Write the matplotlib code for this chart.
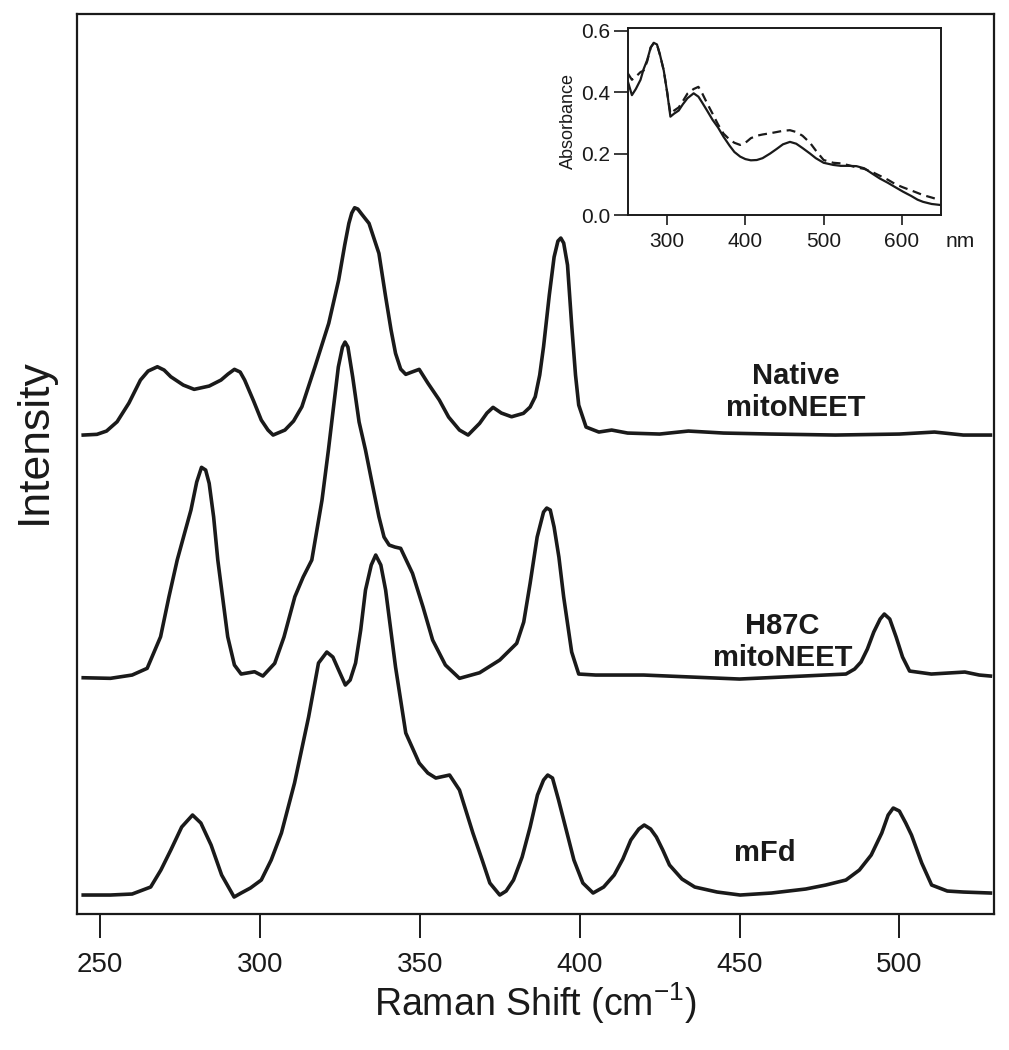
import matplotlib
matplotlib.use("Agg")
import matplotlib.pyplot as plt

plt.rcParams['font.family'] = ['Liberation Sans', 'DejaVu Sans']

# Raman spectra, intensity above each trace's own baseline
native_x = [244.7, 249.0, 252.0, 255.3, 259.0, 262.6, 265.0, 267.9, 270.0, 272.1, 276.0, 279.4,
            284.1, 287.8, 290.0, 292.0, 293.8, 295.2, 298.0, 300.4, 302.5, 304.1, 307.8, 310.5,
            313.1, 317.2, 321.5, 324.6, 326.5, 327.8, 328.7, 329.6, 330.6, 331.8, 334.1, 337.2,
            339.3, 341.0, 342.4, 344.0, 345.6, 347.5, 349.8, 352.5, 356.1, 359.0, 362.4, 365.1,
            368.7, 371.0, 372.9, 375.5, 378.7, 382.4, 384.5, 386.1, 387.5, 388.7, 390.5, 392.0,
            393.2, 394.1, 395.0, 396.2, 397.5, 398.7, 399.7, 402.0, 406.0, 410.0, 415.0, 425.0,
            434.0, 445.0, 460.0, 480.0, 500.0, 511.0, 520.0, 528.5]
native_y = [0, 0.7, 4, 13.3, 32, 55, 64, 68.3, 65, 58.3, 50, 45.7,
            49, 55, 61, 65.7, 63, 55, 34, 15, 5, 0, 5, 14,
            28.3, 68.3, 111.7, 155, 190, 211.7, 222, 227.3, 226, 221, 211.7, 181.7,
            138.3, 105, 81.7, 66, 60.7, 63, 65.7, 52, 35, 18, 5, 0,
            11.7, 22, 27.7, 22, 18.3, 21.7, 28, 38.3, 60, 88.3, 140, 178,
            194, 197, 192, 170, 110, 60, 30, 8, 3, 5, 2, 1,
            4, 2, 1, 0, 1, 3, 0, 0]

h87c_x = [244.7, 253.2, 260.0, 264.7, 268.9, 271.5, 274.1, 276.5, 278.4, 280.2, 281.7, 283.0,
          284.1, 285.5, 286.8, 289.9, 292.0, 294.1, 298.3, 300.9, 304.6, 307.5, 310.9, 313.5,
          316.2, 319.4, 321.4, 323.0, 324.5, 325.8, 326.6, 327.5, 329.0, 331.0, 333.0, 335.0,
          337.2, 338.8, 340.4, 342.2, 344.0, 347.7, 351.0, 354.0, 358.0, 362.4, 368.7, 375.0,
          380.3, 382.5, 384.5, 386.7, 388.7, 389.7, 390.8, 392.0, 393.5, 395.0, 397.5, 399.7,
          405.0, 420.0, 435.0, 450.0, 470.0, 483.3, 486.0, 488.0, 490.0, 492.0, 494.0, 495.3,
          497.0, 499.0, 501.0, 503.2, 510.0, 520.5, 525.0, 528.5]
h87c_y = [-0.7, -1.3, 2, 8.7, 40.3, 80, 117, 145, 167, 195, 209.7, 207,
          193.7, 160, 117, 40.3, 12, 3, 5.3, 1, 13.7, 40, 80.3, 100,
          117, 177, 227, 270, 310, 330, 335, 330, 300, 255, 227, 195,
          160.3, 140, 132, 130, 128.7, 103.7, 70, 37, 12, -1.3, 4.3, 17,
          33.7, 55, 93.7, 140, 165, 169, 167, 150, 120, 80, 25, 3,
          2, 2, 0, -2, 1, 3, 8, 15, 28, 45, 58, 63,
          58, 40, 20, 6, 3, 5, 2, 1]

mfd_x = [244.7, 253.2, 260.0, 265.8, 269.0, 272.1, 275.5, 278.9, 281.5, 284.7, 288.0, 291.9,
         294.1, 297.0, 300.4, 303.5, 306.7, 310.8, 315.2, 318.3, 320.9, 322.8, 324.6, 326.7,
         328.2, 329.9, 331.5, 333.0, 334.8, 336.2, 337.8, 339.3, 342.4, 345.6, 349.8, 352.5,
         355.0, 359.3, 362.4, 366.6, 369.5, 371.9, 375.0, 377.0, 379.3, 382.0, 384.5, 386.8,
         388.7, 390.0, 391.5, 393.4, 395.8, 398.2, 401.0, 404.2, 407.5, 410.8, 413.5, 416.0,
         418.5, 420.2, 422.2, 424.0, 426.0, 428.1, 432.0, 436.0, 443.0, 450.2, 460.0, 470.7,
         477.0, 483.3, 487.5, 491.2, 494.5, 496.5, 498.1, 500.0, 502.0, 503.8, 507.0, 510.1,
         515.0, 520.0, 528.5]
mfd_y = [0, 0, 1, 8, 25, 45, 68, 80, 72, 50, 20, -2,
         2, 7, 15, 35, 62, 112, 178, 232, 243, 238, 225, 210,
         215, 232, 265, 305, 330, 340, 330, 305, 228, 162, 132, 122,
         117, 120, 105, 62, 35, 12, 0, 4, 15, 38, 68, 100,
         115, 120, 117, 95, 65, 35, 12, 2, 8, 20, 36, 55,
         66, 70, 66, 58, 45, 30, 16, 8, 3, 0, 2, 6,
         10, 15, 25, 40, 62, 80, 87, 84, 72, 60, 32, 10,
         4, 3, 2]

trace_offsets = [479, 237, 19]
trace_labels = ["Native\nmitoNEET", "H87C\nmitoNEET", "mFd"]

# UV-vis absorbance (inset)
abs_nm = [250, 255, 260, 266, 270, 274.5, 279, 283, 287, 291, 295.7, 300, 304.2, 309, 314.8,
          320, 326, 333.9, 340, 345, 351, 358, 365, 372, 380, 386, 393.4, 400, 407, 414.6,
          422, 431.6, 440, 448, 457, 465, 473, 482.6, 490, 500, 512.3, 522, 532, 542, 552,
          562, 571.7, 582, 592, 601.5, 612, 620, 627, 638, 648.3]
abs_solid = [0.433, 0.39, 0.41, 0.44, 0.475, 0.504, 0.545, 0.56, 0.555, 0.52, 0.47, 0.40,
             0.32, 0.33, 0.34, 0.36, 0.38, 0.396, 0.385, 0.365, 0.34, 0.31, 0.285, 0.255,
             0.225, 0.205, 0.19, 0.182, 0.178, 0.179, 0.185, 0.2, 0.215, 0.23, 0.238, 0.232,
             0.218, 0.2, 0.185, 0.17, 0.163, 0.16, 0.16, 0.159, 0.152, 0.135, 0.119, 0.105,
             0.09, 0.076, 0.062, 0.05, 0.043, 0.036, 0.033]
abs_dash = [0.46, 0.44, 0.45, 0.465, 0.47, 0.5, 0.545, 0.56, 0.555, 0.52, 0.47, 0.40,
            0.33, 0.34, 0.35, 0.37, 0.395, 0.41, 0.417, 0.395, 0.364, 0.33, 0.295, 0.265,
            0.245, 0.235, 0.228, 0.235, 0.25, 0.258, 0.262, 0.266, 0.27, 0.274, 0.276, 0.27,
            0.258, 0.235, 0.21, 0.179, 0.17, 0.168, 0.162, 0.155, 0.15, 0.14, 0.128, 0.115,
            0.1, 0.09, 0.08, 0.072, 0.065, 0.057, 0.049]

ink = '#1a1a1a'

fig = plt.figure(figsize=(10.09, 10.5), dpi=100)
ax = fig.add_axes([0.0763, 0.1295, 0.9088, 0.8571])

spectra = [(native_x, native_y), (h87c_x, h87c_y), (mfd_x, mfd_y)]
for (xs, ys), off in zip(spectra, trace_offsets):
    ax.plot(xs, [v + off for v in ys], color=ink, lw=2.6, solid_joinstyle='round')

# label anchors relative to each trace baseline
for lab, off, (lx, ly) in zip(trace_labels, trace_offsets, [(467.5, 43), (463.5, 35), (458, 42)]):
    ax.text(lx, off + ly, lab, ha='center', va='center', fontsize=21, fontweight='bold',
            linespacing=1.15, color=ink)

ax.set_xlim(242.75, 529.6)
ax.set_ylim(0, 900)
ax.set_xticks([250, 300, 350, 400, 450, 500])
ax.set_yticks([])
ax.tick_params(axis='x', direction='out', length=17, width=1.4, labelsize=20, pad=10, colors=ink)
for s in ax.spines.values():
    s.set_linewidth(1.6)
    s.set_color(ink)
ax.set_xlabel("Raman Shift (cm$^{\\mathregular{-1}}$)", fontsize=27, labelpad=2, color=ink)
ax.set_ylabel("Intensity", fontsize=32, color=ink)
ax.yaxis.set_label_coords(-0.024, 0.525)

# inset
axi = fig.add_axes([0.6224, 0.7952, 0.3102, 0.1786])
axi.plot(abs_nm, abs_solid, color=ink, lw=1.6)
axi.plot(abs_nm, abs_dash, color=ink, lw=1.6, ls=(0, (4, 2.5)))
axi.set_xlim(250, 650)
axi.set_ylim(0, 0.61)
axi.set_xticks([300, 400, 500, 600])
axi.set_yticks([0.0, 0.2, 0.4, 0.6])
axi.set_yticklabels(["0.0", "0.2", "0.4", "0.6"])
axi.tick_params(axis='x', direction='out', length=7, width=1.2, labelsize=15, pad=5, colors=ink)
axi.tick_params(axis='y', direction='out', length=10, width=1.2, labelsize=15, pad=3, colors=ink)
for s in axi.spines.values():
    s.set_linewidth(1.4)
    s.set_color(ink)
axi.set_ylabel("Absorbance", fontsize=13, labelpad=3, color=ink)
axi.text(1.015, -0.14, "nm", transform=axi.transAxes, ha='left', va='center', fontsize=15, color=ink)

fig.savefig("out.png", dpi=100)
